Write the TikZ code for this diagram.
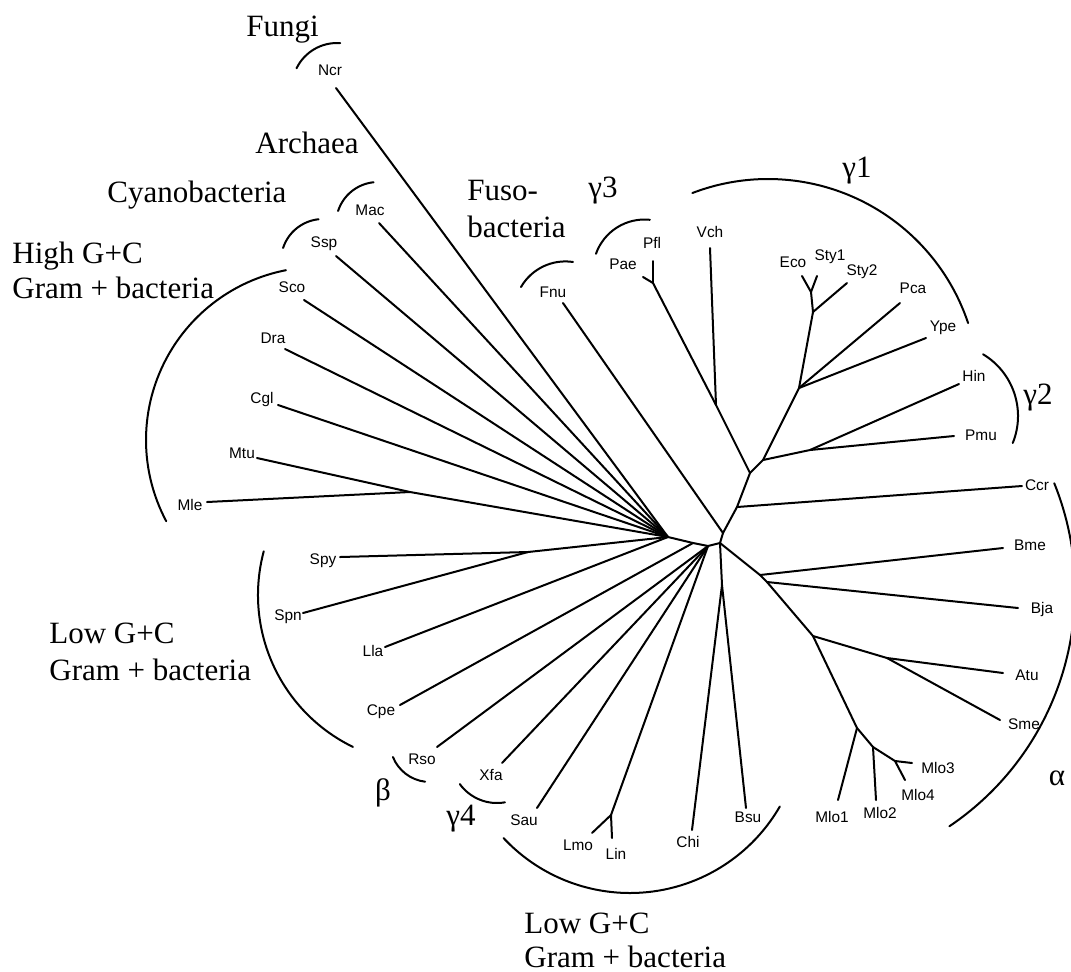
\documentclass[tikz,border=0pt]{standalone}
\usepackage{fontspec}
\setmainfont{Liberation Serif}
\newfontfamily\tipfont{Liberation Sans}
\newcommand{\cladearc}[4]{\draw[bracket] (#1) ++(#2:#4) arc[start angle=#2,end angle=#3,radius=#4];}
\begin{document}
\begin{tikzpicture}[x=0.5pt,y=-0.5pt,line cap=round,line join=round,
  branch/.style={line width=1pt},bracket/.style={line width=1pt},
  tip/.style={font=\tipfont\fontsize{7.7}{9}\selectfont,inner sep=0pt},
  grp/.style={font=\fontsize{15.5}{18}\selectfont,inner sep=0pt,anchor=base west},
  grk/.style={grp,anchor=base}]
\useasboundingbox (0,0) rectangle (1071,971);

% inner nodes
\coordinate (c0) at (720,543);
\coordinate (n1) at (723,533);
\coordinate (n2) at (737,507);
\coordinate (n3) at (750,473);
\coordinate (v) at (716,405);
\coordinate (p) at (653,283);
\coordinate (n4) at (763,460);
\coordinate (n5) at (810,450);
\coordinate (n6) at (799,388);
\coordinate (n7) at (813,312);
\coordinate (n8) at (811,292);
\coordinate (d1) at (722,585);
\coordinate (r1) at (760,575);
\coordinate (r2) at (767,582);
\coordinate (r3) at (813,636);
\coordinate (r4) at (887,658);
\coordinate (r5) at (857,728);
\coordinate (r6) at (873,747);
\coordinate (r7) at (895,761);
\coordinate (h) at (668,537);
\coordinate (l2) at (693,543);
\coordinate (l3) at (708,546);
\coordinate (m) at (410,492);
\coordinate (s) at (528,552);
\coordinate (ll) at (611,815);

% leaf tips
\coordinate (tNcr) at (336,88);   \coordinate (tMac) at (379,223);
\coordinate (tSsp) at (336,256);  \coordinate (tSco) at (304,300);
\coordinate (tDra) at (285,349);  \coordinate (tCgl) at (278,405);
\coordinate (tMtu) at (257,458);  \coordinate (tMle) at (207,502);
\coordinate (tSpy) at (340,557);  \coordinate (tSpn) at (303,613);
\coordinate (tLla) at (385,647);  \coordinate (tCpe) at (400,705);
\coordinate (tRso) at (437,747);  \coordinate (tXfa) at (502,763);
\coordinate (tSau) at (537,808);  \coordinate (tLmo) at (592,833);
\coordinate (tLin) at (612,838);  \coordinate (tChi) at (692,830);
\coordinate (tBsu) at (746,808);  \coordinate (tMlo1) at (838,800);
\coordinate (tMlo2) at (876,800); \coordinate (tMlo4) at (905,780);
\coordinate (tMlo3) at (912,763); \coordinate (tSme) at (1000,720);
\coordinate (tAtu) at (1003,673); \coordinate (tBja) at (1018,608);
\coordinate (tBme) at (1003,548); \coordinate (tCcr) at (1022,486);
\coordinate (tPmu) at (954,436);  \coordinate (tHin) at (959,384);
\coordinate (tYpe) at (926,338);  \coordinate (tPca) at (900,303);
\coordinate (tSty2) at (847,283); \coordinate (tSty1) at (817,276);
\coordinate (tEco) at (802,276);  \coordinate (tVch) at (710,248);
\coordinate (tPfl) at (653,261);  \coordinate (tPae) at (643,277);
\coordinate (tFnu) at (563,303);

% branches
\draw[branch] (h) -- (tNcr);
\draw[branch] (h) -- (tMac);
\draw[branch] (h) -- (tSsp);
\draw[branch] (h) -- (tSco);
\draw[branch] (h) -- (tDra);
\draw[branch] (h) -- (tCgl);
\draw[branch] (h) -- (m);
\draw[branch] (m) -- (tMtu);
\draw[branch] (m) -- (tMle);
\draw[branch] (h) -- (s);
\draw[branch] (s) -- (tSpy);
\draw[branch] (s) -- (tSpn);
\draw[branch] (h) -- (tLla);
\draw[branch] (h) -- (l2);
\draw[branch] (l2) -- (tCpe);
\draw[branch] (l2) -- (l3);
\draw[branch] (l3) -- (tRso);
\draw[branch] (l3) -- (tXfa);
\draw[branch] (l3) -- (tSau);
\draw[branch] (l3) -- (ll);
\draw[branch] (ll) -- (tLmo);
\draw[branch] (ll) -- (tLin);
\draw[branch] (l3) -- (c0);
\draw[branch] (c0) -- (n1);
\draw[branch] (n1) -- (tFnu);
\draw[branch] (n1) -- (n2);
\draw[branch] (n2) -- (tCcr);
\draw[branch] (n2) -- (n3);
\draw[branch] (n3) -- (v);
\draw[branch] (v) -- (p);
\draw[branch] (v) -- (tVch);
\draw[branch] (p) -- (tPfl);
\draw[branch] (p) -- (tPae);
\draw[branch] (n3) -- (n4);
\draw[branch] (n4) -- (n5);
\draw[branch] (n5) -- (tHin);
\draw[branch] (n5) -- (tPmu);
\draw[branch] (n4) -- (n6);
\draw[branch] (n6) -- (tPca);
\draw[branch] (n6) -- (tYpe);
\draw[branch] (n6) -- (n7);
\draw[branch] (n7) -- (tSty2);
\draw[branch] (n7) -- (n8);
\draw[branch] (n8) -- (tEco);
\draw[branch] (n8) -- (tSty1);
\draw[branch] (c0) -- (d1);
\draw[branch] (d1) -- (tChi);
\draw[branch] (d1) -- (tBsu);
\draw[branch] (c0) -- (r1);
\draw[branch] (r1) -- (tBme);
\draw[branch] (r1) -- (r2);
\draw[branch] (r2) -- (tBja);
\draw[branch] (r2) -- (r3);
\draw[branch] (r3) -- (r4);
\draw[branch] (r4) -- (tAtu);
\draw[branch] (r4) -- (tSme);
\draw[branch] (r3) -- (r5);
\draw[branch] (r5) -- (tMlo1);
\draw[branch] (r5) -- (r6);
\draw[branch] (r6) -- (tMlo2);
\draw[branch] (r6) -- (r7);
\draw[branch] (r7) -- (tMlo3);
\draw[branch] (r7) -- (tMlo4);

% leaf labels
\node[tip] (Ncr) at (330,70) {Ncr};
\node[tip] (Mac) at (370,210) {Mac};
\node[tip] (Ssp) at (324,244) {Ssp};
\node[tip] (Sco) at (292,287) {Sco};
\node[tip] (Dra) at (273,338) {Dra};
\node[tip] (Cgl) at (262,400) {Cgl};
\node[tip] (Mtu) at (242,453) {Mtu};
\node[tip] (Mle) at (190,505) {Mle};
\node[tip] (Spy) at (323,561) {Spy};
\node[tip] (Spn) at (288,617) {Spn};
\node[tip] (Lla) at (373,651) {Lla};
\node[tip] (Cpe) at (381,712) {Cpe};
\node[tip] (Rso) at (422,759) {Rso};
\node[tip] (Xfa) at (491,775) {Xfa};
\node[tip] (Sau) at (524,820) {Sau};
\node[tip] (Lmo) at (578,845) {Lmo};
\node[tip] (Lin) at (616,854) {Lin};
\node[tip] (Chi) at (688,842) {Chi};
\node[tip] (Bsu) at (748,817) {Bsu};
\node[tip] (Mlo1) at (832,817) {Mlo1};
\node[tip] (Mlo2) at (880,813) {Mlo2};
\node[tip] (Mlo4) at (918,795) {Mlo4};
\node[tip] (Mlo3) at (938,768) {Mlo3};
\node[tip] (Sme) at (1024,724) {Sme};
\node[tip] (Atu) at (1027,675) {Atu};
\node[tip] (Bja) at (1042,610) {Bja};
\node[tip] (Bme) at (1030,545) {Bme};
\node[tip] (Ccr) at (1037,485) {Ccr};
\node[tip] (Pmu) at (981,435) {Pmu};
\node[tip] (Hin) at (974,376) {Hin};
\node[tip] (Ype) at (943,328) {Ype};
\node[tip] (Pca) at (913,288) {Pca};
\node[tip] (Sty2) at (862,272) {Sty2};
\node[tip] (Sty1) at (830,257) {Sty1};
\node[tip] (Eco) at (793,262) {Eco};
\node[tip] (Vch) at (710,232) {Vch};
\node[tip] (Pfl) at (652,243) {Pfl};
\node[tip] (Pae) at (623,264) {Pae};
\node[tip] (Fnu) at (553,292) {Fnu};

% clade brackets
\cladearc{337,88}{206}{274}{45}
\cladearc{378,224}{198}{264}{42}
\cladearc{323,261}{198}{264}{42}
\cladearc{319,440}{152}{259}{173}
\cladearc{427,595}{116}{195}{169}
\cladearc{430,742}{97}{158}{40}
\cladearc{497,757}{80}{144}{46}
\cladearc{630,720}{30}{137}{173}
\cladearc{790,590}{-22}{56}{285}
\cladearc{946,416}{-59}{22}{72}
\cladearc{768,390}{249}{341.5}{211}
\cladearc{644.5,271}{199.5}{276}{51.5}
\cladearc{565.4,312.7}{210}{278.5}{51.3}

% clade names
\node[grp] (fungi) at (246,36) {Fungi};
\node[grp] (archaea) at (255,153) {Archaea};
\node[grp] (cyano) at (107,202) {Cyanobacteria};
\node[grp] (hgcA) at (12,263) {High G+C};
\node[grp] (hgcB) at (12,298) {Gram + bacteria};
\node[grp] (fusoA) at (467,200) {Fuso-};
\node[grp] (fusoB) at (467,237) {bacteria};
\node[grp] (lgcA) at (49,643) {Low G+C};
\node[grp] (lgcB) at (49,680) {Gram + bacteria};
\node[grp] (lgcC) at (524,933) {Low G+C};
\node[grp] (lgcD) at (524,967) {Gram + bacteria};
\node[grk] (g1) at (857,177) {γ1};
\node[grk] (g2) at (1038,404) {γ2};
\node[grk] (g3) at (603,197) {γ3};
\node[grk] (g4) at (461,825) {γ4};
\node[grk] (beta) at (383,800) {β};
\node[grk] (alpha) at (1057,785) {α};
\end{tikzpicture}
\end{document}
